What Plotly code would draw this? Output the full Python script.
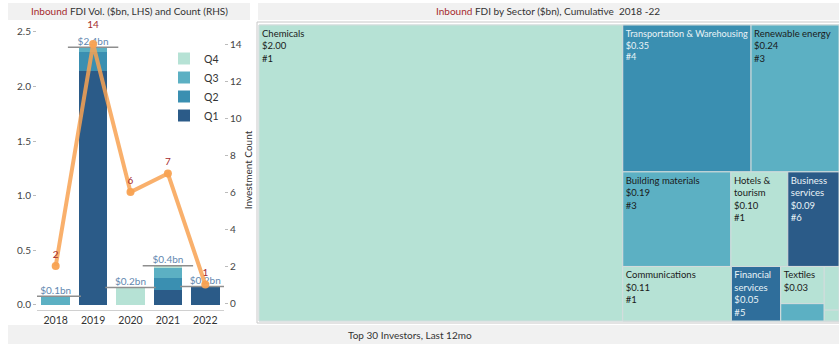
import plotly.graph_objects as go

W, H = 839, 344

# ---------------- data: left chart ----------------
years = ["2018", "2019", "2020", "2021", "2022"]
q1 = [0.00, 2.14, 0.00, 0.14, 0.17]
q2 = [0.00, 0.18, 0.00, 0.11, 0.00]
q3 = [0.08, 0.04, 0.00, 0.09, 0.00]
q4 = [0.00, 0.00, 0.16, 0.02, 0.00]
counts = [2, 14, 6, 7, 1]

# ---------------- data: treemap ----------------
sectors = ["Chemicals", "Transportation & Warehousing", "Renewable energy",
           "Building materials", "Hotels & tourism", "Business services",
           "Communications", "Financial services", "Textiles",
           "Other 1", "Other 2", "Other 3"]
sector_values = [2.00, 0.35, 0.24, 0.19, 0.10, 0.09, 0.11, 0.05, 0.03, 0.014, 0.012, 0.003]
sector_counts = [1, 4, 3, 3, 1, 6, 1, 5, 1, 3, 1, 1]
# tiling groups (emulating the original tool's row layout)
sector_group = ["root", "row1", "row1", "row2", "row2", "row2",
                "row3", "row3", "col_a", "col_a", "col_b", "col_b"]
group_parent = {"rest": "root", "row1": "rest", "row2": "rest", "row3": "rest",
                "col_a": "row3", "col_b": "row3"}
tile_order = ["Chemicals", "rest", "row1", "Transportation & Warehousing", "Renewable energy",
              "row2", "Building materials", "Hotels & tourism", "Business services",
              "row3", "Communications", "Financial services",
              "col_a", "Textiles", "Other 1", "col_b", "Other 2", "Other 3"]
wrap = {"Hotels & tourism": "Hotels &<br>tourism", "Business services": "Business<br>services",
        "Financial services": "Financial<br>services"}

# ---------------- styles ----------------
FONT = "Lato"
C_Q1, C_Q2, C_Q3, C_Q4 = "#2b5b88", "#3a8fb1", "#5cb0c3", "#b6e2d5"
count_color = {1: C_Q4, 3: C_Q3, 4: C_Q2, 5: "#2f6e9b", 6: C_Q1}
RED = "#a52a2e"
ORANGE = "rgba(248,162,82,0.85)"
label_gap = [8, 20, 8, 8, 8]   # invisible marker sizes controlling label offsets

fig = go.Figure()

for name, vals, col in [("Q1", q1, C_Q1), ("Q2", q2, C_Q2), ("Q3", q3, C_Q3), ("Q4", q4, C_Q4)]:
    fig.add_trace(go.Bar(x=years, y=vals, name=name, marker=dict(color=col, line=dict(width=0)),
                         xaxis="x", yaxis="y"))

totals = [round(a + b + c + d, 3) for a, b, c, d in zip(q1, q2, q3, q4)]
fig.add_trace(go.Scatter(
    x=years, y=totals, mode="markers", showlegend=False, xaxis="x", yaxis="y",
    marker=dict(symbol="line-ew", size=36, line=dict(width=1.5, color="#8e8e8e")),
    hoverinfo="skip"))

fig.add_trace(go.Scatter(
    x=years, y=counts, mode="lines+markers", showlegend=False, xaxis="x", yaxis="y2",
    line=dict(color=ORANGE, width=4), cliponaxis=False,
    marker=dict(color="rgba(248,162,82,0.95)", size=8)))

fig.add_trace(go.Scatter(
    x=years, y=counts, mode="markers+text", showlegend=False, xaxis="x", yaxis="y2",
    marker=dict(size=label_gap, opacity=0), cliponaxis=False,
    text=[str(c) for c in counts], textposition="top center",
    textfont=dict(color=RED, size=10, family=FONT), hoverinfo="skip"))

fig.add_trace(go.Scatter(
    x=years, y=totals, mode="text", showlegend=False, xaxis="x", yaxis="y", cliponaxis=False,
    text=["$%.1fbn" % t for t in totals], textposition="top center",
    textfont=dict(color="#6287b0", size=10, family=FONT), hoverinfo="skip"))

# ---------------- treemap ----------------
val_of = dict(zip(sectors, sector_values))
cnt_of = dict(zip(sectors, sector_counts))
grp_of = dict(zip(sectors, sector_group))
ids, parents, values, colors, texts, tcolors = ["root"], [""], [0], ["white"], [""], ["#000"]
for node in tile_order:
    ids.append(node)
    if node in group_parent:
        parents.append(group_parent[node]); values.append(0)
        colors.append("white"); texts.append(""); tcolors.append("#000")
    else:
        parents.append(grp_of[node]); v = val_of[node]; c = cnt_of[node]
        values.append(v); colors.append(count_color[c])
        if node.startswith("Other"):
            texts.append("")
        else:
            t = wrap.get(node, node) + "<br>$%.2f" % v
            if v >= 0.05:
                t += "<br>#%d" % c
            texts.append(t)
        tcolors.append("#eaf4f7" if c >= 4 else "#1a1a1a")

fig.add_trace(go.Treemap(
    ids=ids, parents=parents, values=values, branchvalues="remainder", sort=False,
    labels=ids, text=texts, texttemplate="%{text}", textposition="top left",
    textfont=dict(family=FONT, size=9.5, color=tcolors),
    marker=dict(colors=colors, line=dict(width=1, color="#d3dcdc"), pad=dict(t=0, l=0, r=0, b=0),
                depthfade=False),
    tiling=dict(packing="slice-dice", pad=0),
    pathbar=dict(visible=False), hoverinfo="skip",
    domain=dict(x=[259 / W, 1.0], y=[1 - 321 / H, 1 - 25 / H])))

# ---------------- layout ----------------
def py(px):
    return 1 - px / H

shapes = [
    dict(type="rect", xref="paper", yref="paper", x0=8 / W, x1=250 / W, y0=py(20), y1=py(3),
         fillcolor="#f1f1f1", line=dict(width=0), layer="below"),
    dict(type="rect", xref="paper", yref="paper", x0=258 / W, x1=1, y0=py(20), y1=py(3),
         fillcolor="#f1f1f1", line=dict(width=0), layer="below"),
    dict(type="rect", xref="paper", yref="paper", x0=8 / W, x1=1, y0=py(344), y1=py(325),
         fillcolor="#f1f1f1", line=dict(width=0), layer="below"),
    dict(type="rect", xref="paper", yref="paper", x0=257 / W, x1=1.01, y0=py(323), y1=py(22),
         fillcolor="rgba(0,0,0,0)", line=dict(width=1, color="#c8c8c8")),
]

annotations = [
    dict(text="<span style='color:%s'>Inbound</span> FDI Vol. ($bn, LHS) and Count (RHS)" % RED,
         x=129 / W, y=py(11.5), xref="paper", yref="paper", showarrow=False,
         xanchor="center", yanchor="middle",
         font=dict(family=FONT, size=10, color="#333")),
    dict(text="<span style='color:%s'>Inbound</span> FDI by Sector ($bn), Cumulative  2018 -22" % RED,
         x=548 / W, y=py(11.5), xref="paper", yref="paper", showarrow=False,
         xanchor="center", yanchor="middle",
         font=dict(family=FONT, size=10, color="#333")),
    dict(text="Top 30 Investors, Last 12mo", x=410 / W, y=py(335), xref="paper", yref="paper",
         showarrow=False, xanchor="center", yanchor="middle",
         font=dict(family=FONT, size=10, color="#333")),
]

fig.update_layout(
    width=W, height=H, margin=dict(l=0, r=0, t=0, b=0),
    paper_bgcolor="white", plot_bgcolor="white",
    font=dict(family=FONT, size=10, color="#444"),
    barmode="stack", bargap=0.24,
    shapes=shapes, annotations=annotations,
    legend=dict(x=164 / W, y=py(44), xanchor="left", yanchor="top", traceorder="reversed",
                font=dict(family=FONT, size=10.5, color="#333"), bgcolor="rgba(0,0,0,0)",
                itemwidth=30, tracegroupgap=0),
    xaxis=dict(domain=[37 / W, 224 / W], anchor="y", range=[-0.5, 4.5], showgrid=False,
               showline=True, automargin=False,
               linecolor="#d0d0d0", ticks="", tickfont=dict(size=10.5, color="#333")),
    yaxis=dict(domain=[py(310), py(30)], range=[-0.046, 2.518], tickvals=[0, 0.5, 1, 1.5, 2, 2.5],
               ticktext=["0.0", "0.5", "1.0", "1.5", "2.0", "2.5"], showgrid=False, zeroline=False,
               ticks="outside", ticklen=3, tickcolor="#bbb", automargin=False,
               tickfont=dict(size=10, color="#444")),
    yaxis2=dict(overlaying="y", side="right", anchor="x", range=[-0.378, 14.76],
                tickvals=list(range(0, 15, 2)), showgrid=False, zeroline=False, automargin=False,
                ticks="outside", ticklen=3, tickcolor="#bbb", tickfont=dict(size=10, color="#444"),
                title=dict(text="Investment Count", font=dict(size=10, color="#333"), standoff=4)),
)

fig.write_html("out.html", config={"displayModeBar": False},
               post_script="document.body.style.margin='0px';")
